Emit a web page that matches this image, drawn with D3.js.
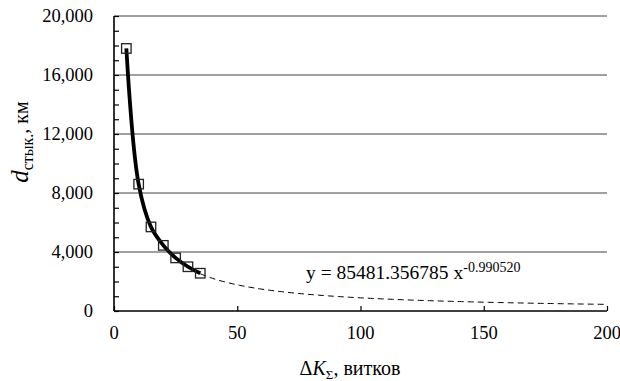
<!DOCTYPE html>
<html>
<head>
<meta charset="utf-8">
<script src="https://cdn.jsdelivr.net/npm/d3@7"></script>
<style>
  body { margin: 0; background: #fff; }
  svg text { font-family: "Liberation Serif", "Times New Roman", serif; fill: #000; }
</style>
</head>
<body>
<svg id="chart" width="620" height="381"></svg>
<script>
// measured points
const turns = [5, 10, 15, 20, 25, 30, 35];
const distKm = [17800, 8600, 5700, 4450, 3600, 3000, 2560];
const xTicks = [0, 50, 100, 150, 200];
const yTicks = [0, 4000, 8000, 12000, 16000, 20000];
// power trend line y = a * x^b, as printed on the chart
const fitA = 85481.356785;
const fitB = -0.990520;
const fitRange = [35, 200];

const svg = d3.select('#chart');
const plotL = 114, plotR = 607, plotT = 16, plotB = 311;

const x = d3.scaleLinear().domain([0, 200]).range([plotL, plotR]);
const y = d3.scaleLinear().domain([0, 20000]).range([plotB, plotT]);
const fmt = d3.format(',');

// gridlines
svg.append('g')
  .selectAll('line')
  .data(yTicks.filter(d => d > 0))
  .enter()
  .append('line')
  .attr('x1', plotL).attr('x2', plotR)
  .attr('y1', d => y(d)).attr('y2', d => y(d))
  .attr('stroke', '#404040')
  .attr('stroke-width', 1);

// y axis: minor ticks every 1000, pointing inside
const yAxis = svg.append('g').attr('transform', `translate(${plotL},0)`)
  .call(d3.axisRight(y).ticks(20).tickSize(5).tickFormat(''));
yAxis.select('.domain').remove();
yAxis.selectAll('line').attr('stroke', '#000').attr('stroke-width', 1.2);
svg.append('line')
  .attr('x1', plotL).attr('x2', plotL).attr('y1', plotT).attr('y2', plotB)
  .attr('stroke', '#000').attr('stroke-width', 1.6);

svg.append('g')
  .selectAll('text')
  .data(yTicks)
  .enter()
  .append('text')
  .attr('x', plotL - 21)
  .attr('y', d => y(d))
  .attr('dy', '0.34em')
  .attr('text-anchor', 'end')
  .attr('font-size', 18.5)
  .text(d => fmt(d));

// x axis, ticks pointing up
const xAxis = svg.append('g').attr('transform', `translate(0,${plotB})`)
  .call(d3.axisTop(x).tickValues(xTicks).tickSize(5).tickFormat(''));
xAxis.select('.domain').remove();
xAxis.selectAll('line').attr('stroke', '#000').attr('stroke-width', 1.2);
svg.append('line')
  .attr('x1', plotL).attr('x2', plotR).attr('y1', plotB).attr('y2', plotB)
  .attr('stroke', '#000').attr('stroke-width', 1.6);

svg.append('g')
  .selectAll('text')
  .data(xTicks)
  .enter()
  .append('text')
  .attr('x', d => x(d))
  .attr('y', 339)
  .attr('text-anchor', 'middle')
  .attr('font-size', 18.5)
  .text(d => d);

// trend line (dashed continuation)
const fitXs = d3.range(fitRange[0], fitRange[1] + 0.5, 1);
svg.append('path')
  .datum(fitXs)
  .attr('fill', 'none')
  .attr('stroke', '#000')
  .attr('stroke-width', 1)
  .attr('stroke-dasharray', '6,4')
  .attr('d', d3.line().x(d => x(d)).y(d => y(fitA * Math.pow(d, fitB))));

// smoothed data line
const pts = turns.map((t, i) => [t, distKm[i]]);
svg.append('path')
  .datum(pts)
  .attr('fill', 'none')
  .attr('stroke', '#000')
  .attr('stroke-width', 3.8)
  .attr('d', d3.line().curve(d3.curveCatmullRom.alpha(0.5)).x(d => x(d[0])).y(d => y(d[1])));

// square markers
const ms = 9.5;
svg.append('g')
  .selectAll('rect')
  .data(pts)
  .enter()
  .append('rect')
  .attr('x', d => x(d[0]) - ms / 2)
  .attr('y', d => y(d[1]) - ms / 2)
  .attr('width', ms).attr('height', ms)
  .attr('fill', 'none')
  .attr('stroke', '#222')
  .attr('stroke-width', 1.3);

// equation
const eq = svg.append('text')
  .attr('x', 306).attr('y', 279)
  .attr('font-size', 19.5);
eq.append('tspan').text('y = 85481.356785 x');
eq.append('tspan').attr('dy', -7).attr('font-size', 14).text('-0.990520');

// x label
const xl = svg.append('text')
  .attr('x', 350).attr('y', 375)
  .attr('text-anchor', 'middle')
  .attr('font-size', 20);
xl.append('tspan').text('Δ');
xl.append('tspan').attr('font-style', 'italic').text('K');
xl.append('tspan').attr('dy', 4).attr('font-size', 13).text('Σ');
xl.append('tspan').attr('dy', -4).text(', витков');

// y label
const yl = svg.append('text')
  .attr('transform', 'translate(28,142) rotate(-90)')
  .attr('text-anchor', 'middle')
  .attr('font-size', 20);
yl.append('tspan').attr('font-style', 'italic').attr('font-size', 25).text('d');
yl.append('tspan').attr('dy', 5).attr('font-size', 16).text('стык.');
yl.append('tspan').attr('dy', -5).text(', км');
</script>
</body>
</html>
